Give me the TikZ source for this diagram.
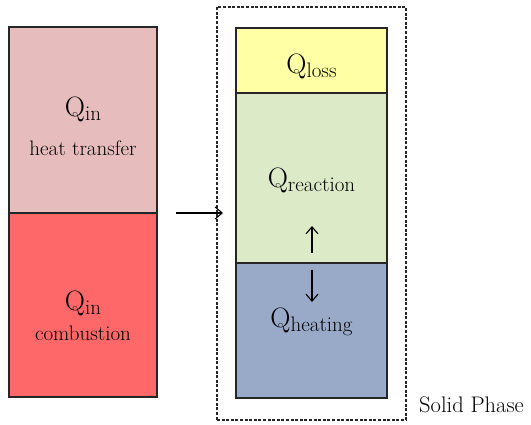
\documentclass[tikz,border=0pt]{standalone}
\usepackage{fontspec}
\usetikzlibrary{arrows.meta}
\definecolor{cpink}{HTML}{E6BCBC}
\definecolor{cred}{HTML}{FF6868}
\definecolor{cyellow}{HTML}{FFFFA6}
\definecolor{cgreen}{HTML}{DCEAC8}
\definecolor{cblue}{HTML}{98AAC8}
\definecolor{cline}{HTML}{262626}
\newcommand{\Qlab}[1]{\fontsize{28}{28}\selectfont Q\raisebox{-4.5pt}{\fontsize{21}{21}\selectfont #1}}
\begin{document}
\begin{tikzpicture}[x=1pt,y=-1pt,
  panel/.style={draw=cline,line width=1.1pt,inner sep=0pt,outer sep=0pt},
  sub/.style={font=\fontsize{21}{21}\selectfont,inner sep=0pt},
  flow/.style={-{Straight Barb[length=7pt,width=12pt]},line width=1.1pt,black}]
\useasboundingbox (0,0) rectangle (531,425);
% left column
\node[panel,fill=cpink,minimum width=148pt,minimum height=186pt] (ht) at (83,120) {};
\node[panel,fill=cred,minimum width=148pt,minimum height=184pt] (cb) at (83,305) {};
\node[inner sep=0pt] (qin1) at (83,109) {\Qlab{in}};
\node[sub] (htt) at (83,148) {heat\ transfer};
\node[inner sep=0pt] (qin2) at (83,303) {\Qlab{in}};
\node[sub] (cbt) at (83,333) {combustion};
% dashed system boundary
\node[draw=cline,line width=1.1pt,dash pattern=on 3pt off 1.6pt,minimum width=189pt,minimum height=413pt,inner sep=0pt] (sys) at (311.5,213.5) {};
% right column
\node[panel,fill=cyellow,minimum width=151pt,minimum height=65pt] (loss) at (311.5,60.5) {};
\node[panel,fill=cgreen,minimum width=151pt,minimum height=170pt] (react) at (311.5,178) {};
\node[panel,fill=cblue,minimum width=151pt,minimum height=135pt] (heat) at (311.5,330.5) {};
\node[inner sep=0pt] (ql) at (311.5,66) {\Qlab{loss}};
\node[inner sep=0pt] (qr) at (311.5,180) {\Qlab{reaction}};
\node[inner sep=0pt] (qh) at (311.5,322) {\Qlab{heating}};
% arrows
\coordinate (a1) at (176,213);
\coordinate (a2) at (223,213);
\draw[flow] (a1) -- (a2);
\coordinate (u1) at (312,253);
\coordinate (u2) at (312,226);
\draw[flow] (u1) -- (u2);
\coordinate (d1) at (312,270);
\coordinate (d2) at (312,302);
\draw[flow] (d1) -- (d2);
\node[inner sep=0pt,anchor=west,font=\fontsize{22.5}{22.5}\selectfont] (sp) at (419,405) {Solid Phase};
\end{tikzpicture}
\end{document}
